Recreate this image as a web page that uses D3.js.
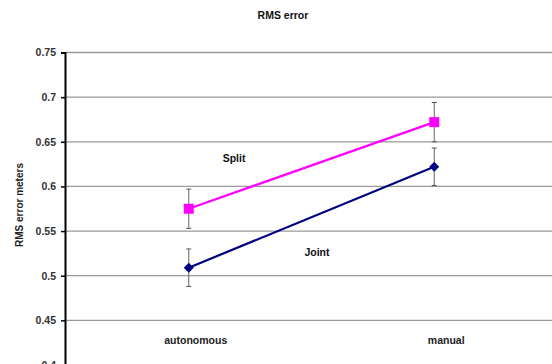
<!DOCTYPE html>
<html><head><meta charset="utf-8">
<script src="https://cdn.jsdelivr.net/npm/d3@7"></script>
<style>body{margin:0;background:#fff;overflow:hidden}svg{display:block}text{font-family:"Liberation Sans",Arial,sans-serif}</style>
</head><body>
<script>
const categories = ["autonomous", "manual"];
const splitValues = [0.575, 0.672];
const splitErr = [0.022, 0.022];
const jointValues = [0.509, 0.622];
const jointErr = [0.021, 0.021];
const yTicks = [0.4, 0.45, 0.5, 0.55, 0.6, 0.65, 0.7, 0.75];
const yTickLabels = ["0.4", "0.45", "0.5", "0.55", "0.6", "0.65", "0.7", "0.75"];

const W = 552, H = 364;
const m = {left: 65, right: -4, top: 52.5, bottom: -1};
const svg = d3.select("body").append("svg").attr("width", W).attr("height", H);
const x = d3.scaleBand().domain(categories).range([m.left, W - m.right]);
const y = d3.scaleLinear().domain([0.4, 0.75]).range([H - m.bottom, m.top]);

// gridlines
svg.append("g").selectAll("line").data(yTicks).join("line")
  .attr("x1", m.left).attr("x2", W)
  .attr("y1", d => y(d)).attr("y2", d => y(d))
  .attr("stroke", "#9a9a9a").attr("stroke-width", 1.3);

// y axis
const ya = svg.append("g").attr("transform", `translate(${m.left},0)`)
  .call(d3.axisLeft(y).tickValues(yTicks).tickFormat((d, i) => yTickLabels[i]).tickSize(4).tickPadding(5));
ya.select(".domain").attr("stroke", "#000").attr("stroke-width", 2);
ya.selectAll(".tick line").attr("stroke", "#000").attr("stroke-width", 1.5);
ya.selectAll(".tick text").attr("font-size", 10.5).attr("font-weight", "bold").attr("fill", "#333");

// category labels
svg.append("g").selectAll("text").data(categories).join("text")
  .attr("x", d => x(d) + x.bandwidth() / 2 + (d === "manual" ? 13 : 8))
  .attr("y", 344).attr("text-anchor", "middle")
  .attr("font-size", 10.5).attr("font-weight", "bold").attr("fill", "#222").text(d => d);

// title
svg.append("text").attr("x", 283).attr("y", 19).attr("text-anchor", "middle")
  .attr("font-size", 10.5).attr("font-weight", "bold").attr("fill", "#111").text("RMS error");
svg.append("text").attr("transform", "translate(23,205) rotate(-90)").attr("text-anchor", "middle")
  .attr("font-size", 10).attr("font-weight", "bold").attr("fill", "#222").text("RMS error meters");

const cx = d => x(d) + x.bandwidth() / 2 + 1;

function series(vals, errs, color, shape) {
  const g = svg.append("g");
  categories.forEach((c, i) => {
    g.append("line").attr("x1", cx(c)).attr("x2", cx(c))
      .attr("y1", y(vals[i] + errs[i])).attr("y2", y(vals[i] - errs[i]))
      .attr("stroke", "#666").attr("stroke-width", 1);
    [vals[i] + errs[i], vals[i] - errs[i]].forEach(v => {
      g.append("line").attr("x1", cx(c) - 2.5).attr("x2", cx(c) + 2.5)
        .attr("y1", y(v)).attr("y2", y(v)).attr("stroke", "#555").attr("stroke-width", 1);
    });
  });
  g.append("path").datum(vals)
    .attr("d", d3.line().x((d, i) => cx(categories[i])).y(d => y(d)))
    .attr("fill", "none").attr("stroke", color).attr("stroke-width", 2.2);
  g.selectAll(".pt").data(vals).join("path")
    .attr("transform", (d, i) => `translate(${cx(categories[i])},${y(d)})` + (shape === "square" ? "" : " rotate(45)"))
    .attr("d", d3.symbol().type(d3.symbolSquare).size(shape === "square" ? 100 : 50))
    .attr("fill", color);
}
series(splitValues, splitErr, "#ff00ff", "square");
series(jointValues, jointErr, "#000080", "diamond");

svg.append("text").attr("x", 234).attr("y", 162).attr("text-anchor", "middle")
  .attr("font-size", 10.5).attr("font-weight", "bold").attr("fill", "#111").text("Split");
svg.append("text").attr("x", 317).attr("y", 256).attr("text-anchor", "middle")
  .attr("font-size", 10.5).attr("font-weight", "bold").attr("fill", "#111").text("Joint");
</script>
</body></html>
